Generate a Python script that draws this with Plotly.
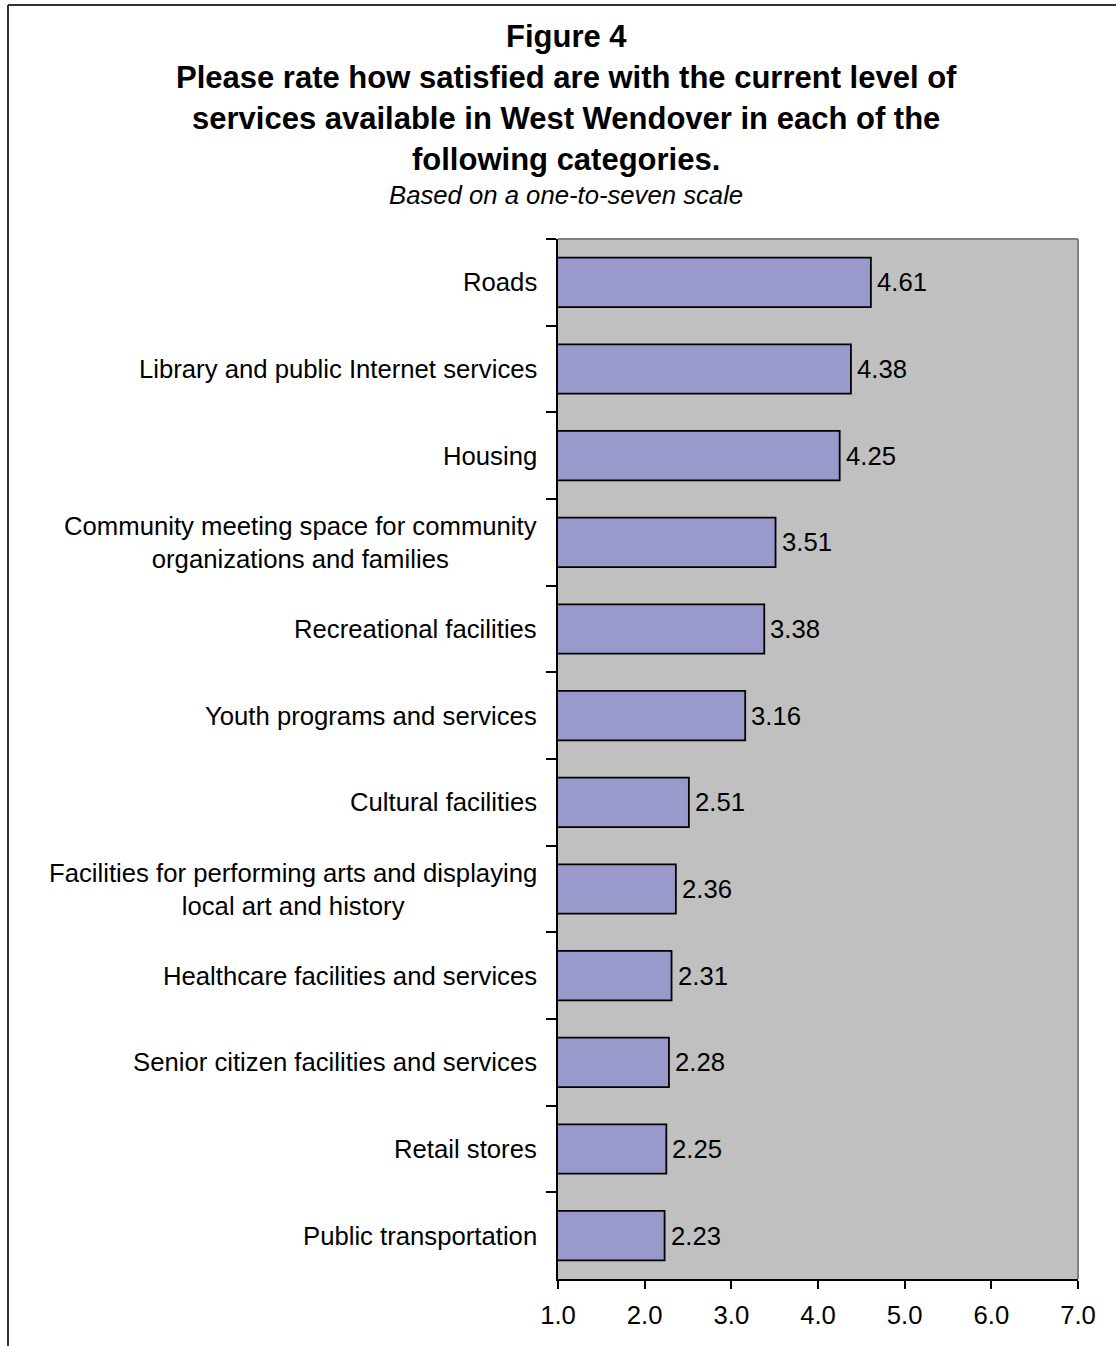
import plotly.graph_objects as go

# Survey results: mean satisfaction on a one-to-seven scale
categories = [
    "Roads",
    "Library and public Internet services",
    "Housing",
    "Community meeting space for community<br>organizations and families",
    "Recreational facilities",
    "Youth programs and services",
    "Cultural facilities",
    "Facilities for performing arts and displaying<br>local art and history",
    "Healthcare facilities and services",
    "Senior citizen facilities and services",
    "Retail stores",
    "Public transportation",
]
scores = [4.61, 4.38, 4.25, 3.51, 3.38, 3.16, 2.51, 2.36, 2.31, 2.28, 2.25, 2.23]
x_ticks = [1, 2, 3, 4, 5, 6, 7]
x_tick_labels = ["1.0", "2.0", "3.0", "4.0", "5.0", "6.0", "7.0"]

title_lines = [
    "Figure 4",
    "Please rate how satisfied are with the current level of",
    "services available in West Wendover in each of the",
    "following categories.",
]
subtitle = "Based on a one-to-seven scale"

W, H = 1116, 1346
FONT = "Liberation Sans, Arial, sans-serif"
FS = 25.7
TITLE_FS = 31


def px_x(x):
    return x / W


def px_y(y):
    return 1 - y / H


fig = go.Figure()
fig.add_trace(go.Bar(
    x=scores,
    y=categories,
    orientation="h",
    width=0.57,
    marker=dict(color="#9999CC", line=dict(color="#000000", width=1.8)),
    hoverinfo="x+y",
))

annotations = []
# chart title and subtitle
for line, yc in zip(title_lines, [36, 77, 118, 159]):
    annotations.append(dict(
        text=f"<b>{line}</b>", x=px_x(566), y=px_y(yc), xref="paper", yref="paper",
        xanchor="center", yanchor="middle", showarrow=False,
        font=dict(family=FONT, size=TITLE_FS, color="#000000"),
    ))
annotations.append(dict(
    text=f"<i>{subtitle}</i>", x=px_x(566), y=px_y(195), xref="paper", yref="paper",
    xanchor="center", yanchor="middle", showarrow=False,
    font=dict(family=FONT, size=FS, color="#000000"),
))

# category labels, centred line by line
for cat in categories:
    annotations.append(dict(
        text=cat, x=px_x(539), y=cat, xref="paper", yref="y",
        xanchor="right", yanchor="middle", align="center", showarrow=False,
        font=dict(family=FONT, size=FS, color="#000000"),
    ))

# value labels at the end of each bar
for cat, v in zip(categories, scores):
    annotations.append(dict(
        text=f"{v:.2f}", x=v, y=cat, xref="x", yref="y",
        xanchor="left", yanchor="middle", xshift=4, showarrow=False,
        font=dict(family=FONT, size=FS, color="#000000"),
    ))

shapes = [
    # plot area top and right border
    dict(type="line", xref="paper", yref="paper", x0=px_x(558), x1=px_x(1078),
         y0=px_y(239), y1=px_y(239), line=dict(color="#808080", width=2)),
    dict(type="line", xref="paper", yref="paper", x0=px_x(1078), x1=px_x(1078),
         y0=px_y(239), y1=px_y(1279), line=dict(color="#808080", width=2)),
    # outer chart frame
    dict(type="line", xref="paper", yref="paper", x0=px_x(8), x1=px_x(8),
         y0=px_y(5), y1=px_y(1360), line=dict(color="#333333", width=2)),
    dict(type="line", xref="paper", yref="paper", x0=px_x(8), x1=px_x(1130),
         y0=px_y(5), y1=px_y(5), line=dict(color="#333333", width=2)),
]

fig.update_layout(
    width=W, height=H, autosize=False,
    margin=dict(l=0, r=0, t=0, b=0, pad=0, autoexpand=False),
    paper_bgcolor="#FFFFFF",
    plot_bgcolor="#C0C0C0",
    showlegend=False,
    annotations=annotations,
    shapes=shapes,
    bargap=0.43,
    xaxis=dict(
        domain=[px_x(558), px_x(1078)],
        range=[1, 7],
        automargin=False,
        tickmode="array", tickvals=x_ticks, ticktext=x_tick_labels,
        ticks="outside", ticklen=8, tickwidth=1.5, tickcolor="#000000",
        ticklabelstandoff=4,
        showline=True, linecolor="#000000", linewidth=1.5,
        showgrid=False, zeroline=False,
        tickfont=dict(family=FONT, size=FS, color="#000000"),
        fixedrange=True,
    ),
    yaxis=dict(
        domain=[px_y(1279), px_y(239)],
        type="category",
        automargin=False,
        categoryorder="array", categoryarray=categories,
        autorange="reversed",
        tickson="boundaries",
        ticks="outside", ticklen=10, tickwidth=1.5, tickcolor="#000000",
        showticklabels=False,
        showline=True, linecolor="#000000", linewidth=1.5,
        showgrid=False, zeroline=False,
        fixedrange=True,
    ),
)

fig.write_html("out.html")
